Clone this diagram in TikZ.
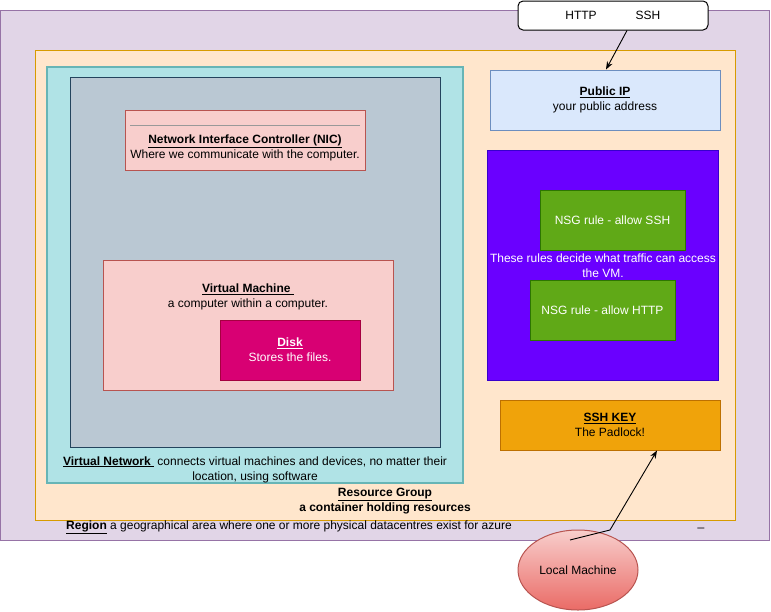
\documentclass[tikz,border=0pt]{standalone}
\usepackage{fontspec}
\setmainfont{Liberation Sans}
\usetikzlibrary{arrows.meta,shapes.geometric}
\definecolor{regfill}{HTML}{E1D5E7}\definecolor{regdraw}{HTML}{9673A6}
\definecolor{rgfill}{HTML}{FFE6CC}\definecolor{rgdraw}{HTML}{D79B00}
\definecolor{vnfill}{HTML}{B0E3E6}\definecolor{vndraw}{HTML}{67B5B6}
\definecolor{grfill}{HTML}{BAC8D3}\definecolor{grdraw}{HTML}{23445D}
\definecolor{pkfill}{HTML}{F8CECC}\definecolor{pkdraw}{HTML}{B85450}
\definecolor{dkfill}{HTML}{D80073}\definecolor{dkdraw}{HTML}{A50040}
\definecolor{blfill}{HTML}{DAE8FC}\definecolor{bldraw}{HTML}{6C8EBF}
\definecolor{vifill}{HTML}{6A00FF}\definecolor{vidraw}{HTML}{3700CC}
\definecolor{gnfill}{HTML}{60A917}\definecolor{gndraw}{HTML}{2D7600}
\definecolor{orfill}{HTML}{F0A30A}\definecolor{ordraw}{HTML}{BD7000}
\definecolor{lmbot}{HTML}{EA6B66}
\begin{document}
\begin{tikzpicture}[x=1pt,y=-1pt,
  box/.style={rectangle,draw,line width=1pt,inner sep=0pt},
  txt/.style={align=center,inner sep=0pt,font=\fontsize{12}{15}\selectfont},
  arr/.style={-{Stealth[length=8pt,width=6pt]},line width=0.9pt,black}]
\useasboundingbox (0,0) rectangle (771,611);
% containers
\node[box,fill=regfill,draw=regdraw,minimum width=769pt,minimum height=530pt] (region) at (385,275) {};
\node[box,fill=rgfill,draw=rgdraw,minimum width=700pt,minimum height=470pt] (rg) at (385,285) {};
\node[box,fill=vnfill,draw=vndraw,line width=2pt,minimum width=416pt,minimum height=416pt] (vnet) at (255,275) {};
\node[box,fill=grfill,draw=grdraw,minimum width=370pt,minimum height=370pt] (gray) at (255,262) {};
% NIC
\node[box,fill=pkfill,draw=pkdraw,minimum width=240pt,minimum height=60pt] (nic) at (245,140) {};
\coordinate (nl1) at (130,125); \coordinate (nl2) at (360,125);
\draw[gray!80,line width=1pt] (nl1) -- (nl2);
\node[txt] (nictxt) at (245,148) {\textbf{\underline{Network Interface Controller (NIC)}}\\Where we communicate with the computer.};
% VM
\node[box,fill=pkfill,draw=pkdraw,minimum width=290pt,minimum height=130pt] (vm) at (248,325) {};
\node[txt] (vmtxt) at (248,297) {\textbf{\underline{Virtual Machine\ }}\\a computer within a computer.};
\node[box,fill=dkfill,draw=dkdraw,minimum width=140pt,minimum height=60pt] (disk) at (290,350) {};
\node[txt,text=white] (disktxt) at (290,350) {\textbf{\underline{Disk}}\\Stores the files.};
% Public IP
\node[box,fill=blfill,draw=bldraw,minimum width=230pt,minimum height=60pt] (pip) at (605,100) {};
\node[txt] (piptxt) at (605,100) {\textbf{\underline{Public IP}}\\your public address};
% NSG
\node[box,fill=vifill,draw=vidraw,minimum width=231pt,minimum height=230pt] (nsg) at (602.5,265) {};
\node[box,fill=gnfill,draw=gndraw,minimum width=145pt,minimum height=60pt,txt,text=white] (ssh) at (612.5,220) {NSG rule - allow SSH};
\node[box,fill=gnfill,draw=gndraw,minimum width=145pt,minimum height=60pt,txt,text=white] (http) at (602.5,310) {NSG rule - allow HTTP};
\node[txt,text=white] (nsgtxt) at (603,265.5) {These rules decide what traffic can access\\the VM.};
% SSH key
\node[box,fill=orfill,draw=ordraw,minimum width=220pt,minimum height=50pt] (key) at (610,425) {};
\node[txt] (keytxt) at (610,425) {\textbf{\underline{SSH KEY}}\\The Padlock!};
% captions
\node[txt] (vntxt) at (255,469.5) {\textbf{\underline{Virtual Network\ }} connects virtual machines and devices, no matter their\\location, using software};
\node[txt] (rgtxt) at (385,501) {\textbf{\underline{Resource Group}}\\\textbf{a container holding resources}};
\node[txt,anchor=west] (regtxt) at (66,527) {\textbf{\underline{Region}} a geographical area where one or more physical datacentres exist for azure};
\node[txt] (dash) at (701,528) {\_};
% HTTP SSH box
\node[box,fill=white,draw=black,rounded corners=5pt,minimum width=190pt,minimum height=29pt] (hs) at (613,15.5) {};
\node[txt] (httplbl) at (581,15.5) {HTTP};
\node[txt] (sshlbl) at (648,15.5) {SSH};
% Local machine
\node[ellipse,draw=pkdraw,line width=1pt,top color=pkfill,bottom color=lmbot,minimum width=120pt,minimum height=80pt,txt] (lm) at (578,570) {Local Machine};
% connectors
\draw[arr] ([xshift=14pt]hs.south) -- ([xshift=1pt]pip.north);
\coordinate (bend) at (610,530);
\draw[arr] ([xshift=-8pt,yshift=30pt]lm.center) -- (bend) -- ([xshift=47pt]key.south);
\end{tikzpicture}
\end{document}
